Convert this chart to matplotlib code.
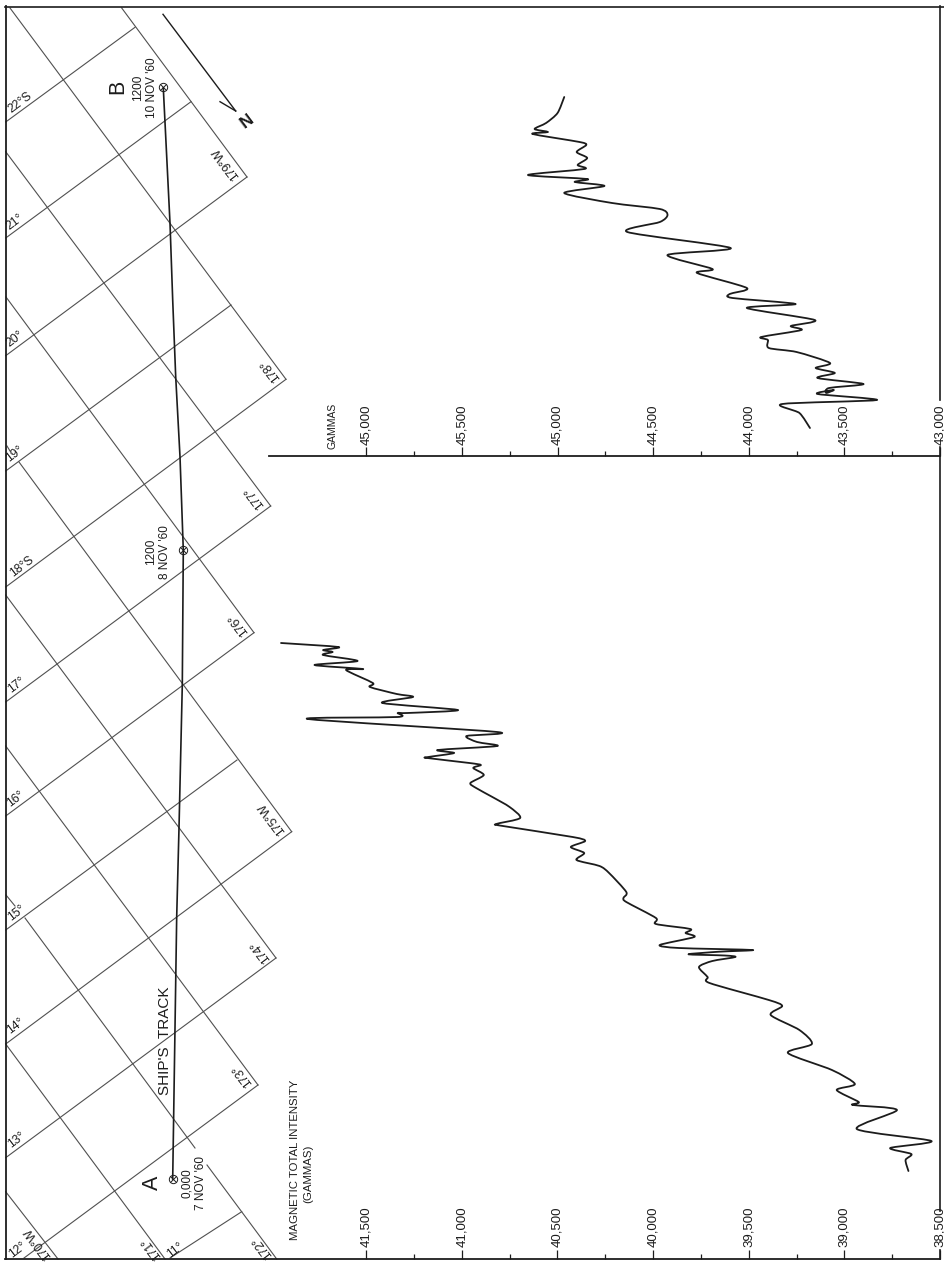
#!/usr/bin/env python3
import matplotlib
matplotlib.use('Agg')
import matplotlib.pyplot as plt
from matplotlib.patches import PathPatch
from matplotlib.path import Path

plt.rcParams['font.family'] = ['Liberation Sans', 'DejaVu Sans']

W, H = 944, 1262
INK = '#1c1c1c'
GRID = '#505050'

# lower panel trace, along track position (from A) and total intensity
west_pos = [1171, 1160, 1154, 1148, 1141, 1129, 1110, 1105, 1102, 1090, 1084, 1070, 1053, 1044,
            1030, 1015, 1006, 1000, 983, 977, 967, 961, 957, 955.5, 954.3, 951.7, 950, 948, 945,
            937, 933, 929, 924, 918, 902, 898, 892, 873, 866, 860, 853, 847, 841, 837, 826, 824,
            818, 807, 797, 788, 783, 775, 768, 765, 763, 758, 757, 753, 750, 746, 742, 736, 732,
            719, 717, 713, 713, 710, 703, 697, 694, 687, 683, 670, 669, 665, 661, 655, 652, 650,
            647, 643]
west_gamma = [38665, 38680, 38650, 38760, 38545, 38935, 38725, 38955, 38925, 39040, 38945, 39065,
              39295, 39170, 39235, 39385, 39325, 39395, 39705, 39715, 39760, 39690, 39570, 39625,
              39815, 39655, 39480, 39865, 39965, 39785, 39830, 39805, 39985, 39985, 40140, 40155,
              40140, 40230, 40280, 40400, 40360, 40430, 40355, 40420, 40785, 40820, 40695, 40750,
              40840, 40925, 40955, 40885, 40940, 40900, 40960, 41180, 41175, 41040, 41125, 40815,
              40920, 40975, 40815, 41805, 41335, 41335, 41285, 41020, 41415, 41255, 41340, 41480,
              41465, 41605, 41515, 41770, 41545, 41725, 41675, 41725, 41645, 41945]

# upper panel trace
east_pos = [428, 413, 404, 400, 394, 390, 393, 388, 384, 378, 373, 368, 363, 352, 348, 340, 337,
            330, 326, 320, 308, 304, 298, 294, 288, 273, 269, 255, 248, 232, 222, 215, 209, 203,
            193, 186, 182, 179, 175, 169, 165, 158, 152, 145, 142, 134, 132, 129, 123, 113, 97]
east_gamma = [43680, 43735, 43825, 43330, 43640, 43555, 43595, 43580, 43400, 43640, 43550, 43650,
              43575, 43750, 43895, 43900, 43935, 43725, 43780, 43655, 44010, 43755, 44085, 44100,
              44010, 44270, 44190, 44425, 44095, 44635, 44465, 44425, 44465, 44715, 44965, 44755,
              44910, 44845, 45155, 44860, 44895, 44845, 44900, 44850, 44885, 45130, 45050, 45120,
              45060, 45000, 44965]

west_ticks = [41500, 41000, 40500, 40000, 39500, 39000, 38500]
west_tick_labels = ['41,500', '41,000', '40,500', '40,000', '39,500', '39,000', '38,500']
east_ticks = [46000, 45500, 45000, 44500, 44000, 43500, 43000]
east_tick_labels = ['45,000', '45,500', '45,000', '44,500', '44,000', '43,500', '43,000']

# map, in picture pixels
parallels = [(170, 1258, 241.7, 1211.7), (24, 1258, 258, 1085), (5.7, 1157.7, 276, 958),
             (5.7, 1044, 291.7, 831.7), (5.7, 930, 237, 760), (5.7, 816, 254, 632.7),
             (5.7, 702, 270.7, 506), (5.7, 587, 286, 379.3), (5.7, 471, 231, 305),
             (5.7, 355.7, 247, 177), (5.7, 238, 191, 101.7), (5.7, 122, 135, 27.3)]
meridians = [(5.7, 1191.7, 58, 1259), (5.7, 1044, 165, 1259), (6, 895, 15, 906),
             (25, 918, 195, 1148), (207, 1165, 276.7, 1259), (5.7, 746, 258, 1085),
             (5.7, 595, 276, 958), (7, 446, 10, 451), (19, 462, 291.7, 831.7),
             (6, 297, 254, 632.7), (5.7, 151.7, 270.7, 506), (10, 8, 286, 379.3),
             (121.7, 8, 247, 177)]
lat_labels = [('22°S', 20.7, 103), ('21°', 15, 221.7), ('20°', 15, 339), ('19°', 15, 454),
              ('18°S', 21.7, 566.7), ('17°', 16.7, 685), ('16°', 16, 799), ('15°', 16.7, 913),
              ('14°', 16, 1025.7), ('13°', 16.7, 1140), ('12°', 18, 1250), ('11°', 175, 1250)]
lon_labels = [('179°W', 226, 163), ('178°', 270, 370), ('177°', 254, 497), ('176°', 238, 624),
              ('175°W', 271.7, 818), ('174°', 260, 950.7), ('173°', 241.7, 1075),
              ('172°', 261.7, 1246.7), ('171°', 150.7, 1248), ('170°W', 38, 1243)]
track_x = [172.7, 176.7, 179, 182.3, 183.3, 180, 175.7, 172.7, 170, 163.3]
track_y = [1179, 916.7, 828, 685, 550, 456.7, 376.7, 300, 223, 88]
stations_x = [172.7, 183.3, 163.3]
stations_y = [1179, 550, 86.7]


def pen_path(xs, ys, t=0.13):
    # the pen trace is rounded at its turns, so join the read points with beziers
    pts = list(zip(xs, ys))
    verts = [pts[0]]
    codes = [Path.MOVETO]
    for i in range(len(pts) - 1):
        p0 = pts[max(i - 1, 0)]
        p1 = pts[i]
        p2 = pts[i + 1]
        p3 = pts[min(i + 2, len(pts) - 1)]
        verts.append((p1[0] + (p2[0] - p0[0]) * t, p1[1] + (p2[1] - p0[1]) * t))
        verts.append((p2[0] - (p3[0] - p1[0]) * t, p2[1] - (p3[1] - p1[1]) * t))
        verts.append(p2)
        codes += [Path.CURVE4] * 3
    return Path(verts, codes)


fig = plt.figure(figsize=(W / 100, H / 100), dpi=100)

ax = fig.add_axes([0, 0, 1, 1])
ax.set_xlim(0, W)
ax.set_ylim(H, 0)
ax.axis('off')

for x0, y0, x1, y1 in parallels + meridians:
    ax.plot([x0, x1], [y0, y1], color=GRID, lw=0.8)

for s, x, y in lat_labels:
    ax.text(x, y, s, rotation=37, ha='center', va='center', fontsize=8.8, color=INK)
for s, x, y in lon_labels:
    ax.text(x, y, s, rotation=127, ha='center', va='center', fontsize=8.8, color=INK)

ax.plot(track_x, track_y, color=INK, lw=1.2)
ax.plot(stations_x, stations_y, 'o', mfc='none', mec=INK, ms=6, mew=0.7)
ax.plot(stations_x, stations_y, 'x', mec=INK, ms=5, mew=0.7)

# outer frame, broken at the two right hand tick labels
ax.plot([5.5, 5.5], [6, 1259], color=INK, lw=1.3)
ax.plot([5, 944], [6.5, 6.5], color=INK, lw=1.2)
for y0, y1 in [(6, 400), (447, 1211), (1250, 1259)]:
    ax.plot([940, 940], [y0, y1], color=INK, lw=1.2)

# north arrow
ax.plot([163, 235.7], [14.3, 111], color=INK, lw=1.0)
ax.plot([220, 235.7], [101.7, 111], color=INK, lw=1.0)
ax.text(243, 118, 'N', rotation=-143, ha='center', va='center', fontsize=12.5, fontweight='bold', color=INK)

ax.text(152.7, 1183, 'A', rotation=90, ha='center', va='center', fontsize=15.5, color=INK)
ax.text(118, 87, 'B', rotation=90, ha='center', va='center', fontsize=15.5, color=INK)
ax.text(194, 1183, "0,000\n7 NOV '60", rotation=90, ha='center', va='center', ma='center', fontsize=8.5, color=INK, linespacing=1.2)
ax.text(145, 88, "1200\n10 NOV '60", rotation=90, ha='center', va='center', ma='center', fontsize=8.5, color=INK, linespacing=1.2)
ax.text(158, 552, "1200\n8 NOV '60", rotation=90, ha='center', va='center', ma='center', fontsize=8.5, color=INK, linespacing=1.2)
ax.text(165, 1041, "SHIP'S  TRACK", rotation=90, ha='center', va='center', fontsize=11, color=INK)
ax.text(295, 1160, 'MAGNETIC TOTAL INTENSITY', rotation=90, ha='center', va='center', fontsize=8.2, color=INK)
ax.text(308, 1174, '(GAMMAS)', rotation=90, ha='center', va='center', fontsize=8.2, color=INK)
ax.text(332, 426, 'GAMMAS', rotation=90, ha='center', va='center', fontsize=7.5, color=INK)


def panel(left, right, top, bottom, xlim, ticks, labels, pos, gamma, label_y):
    a = fig.add_axes([left / W, 1 - bottom / H, (right - left) / W, (bottom - top) / H])
    a.patch.set_alpha(0)
    a.set_xlim(*xlim)
    a.set_ylim(bottom, top)
    for side in ['left', 'right', 'top']:
        a.spines[side].set_visible(False)
    a.spines['bottom'].set_linewidth(1.3)
    a.spines['bottom'].set_color(INK)
    a.set_yticks([])
    a.set_xticks(ticks)
    a.set_xticks([t - 250 for t in ticks[:-1]], minor=True)
    a.tick_params(axis='x', which='major', direction='in', length=6.5, width=0.9, color=INK, labelbottom=False)
    a.tick_params(axis='x', which='minor', direction='in', length=3.6, width=0.9, color=INK)
    a.add_patch(PathPatch(pen_path(gamma, pos), fc='none', ec=INK, lw=1.3, joinstyle='round', capstyle='round'))
    for t, s in zip(ticks, labels):
        a.text(t, label_y, s, rotation=90, ha='center', va='bottom', fontsize=9.5, color=INK, clip_on=False)
    return a


panel(5, 940, 456, 1259, (43388, 38505), west_ticks, west_tick_labels, west_pos, west_gamma, 1247)
panel(269, 940, 6, 456, (46509, 43005), east_ticks, east_tick_labels, east_pos, east_gamma, 445)

fig.savefig('out.png', dpi=100)
